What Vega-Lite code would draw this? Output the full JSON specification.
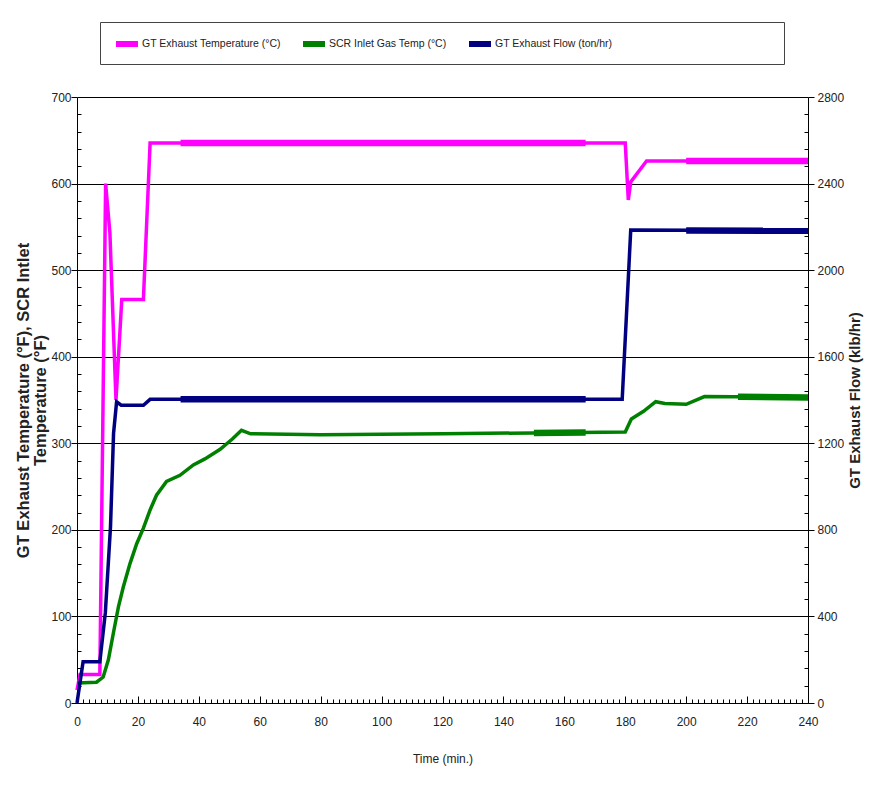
{
  "$schema": "https://vega.github.io/schema/vega-lite/v6.json",
  "width": 731,
  "height": 606,
  "autosize": {"type": "none"},
  "padding": {"left": 77, "top": 97, "right": 63, "bottom": 85},
  "background": "white",
  "config": {
    "view": {"stroke": null},
    "font": "Liberation Sans",
    "axis": {
      "domainColor": "black",
      "domainWidth": 1,
      "tickColor": "black",
      "labelColor": "#222",
      "titleColor": "#222",
      "labelFont": "Liberation Sans",
      "labelFontSize": 12,
      "gridColor": "black",
      "gridWidth": 1
    }
  },
  "datasets": {
    "temp": [
      {"series": "GT Exhaust Temperature (°C)", "t": 0, "v": 15},
      {"series": "GT Exhaust Temperature (°C)", "t": 1, "v": 33},
      {"series": "GT Exhaust Temperature (°C)", "t": 7.5, "v": 33},
      {"series": "GT Exhaust Temperature (°C)", "t": 9.4, "v": 600},
      {"series": "GT Exhaust Temperature (°C)", "t": 10.8, "v": 543},
      {"series": "GT Exhaust Temperature (°C)", "t": 12.8, "v": 350},
      {"series": "GT Exhaust Temperature (°C)", "t": 14.7, "v": 466},
      {"series": "GT Exhaust Temperature (°C)", "t": 21.8, "v": 466},
      {"series": "GT Exhaust Temperature (°C)", "t": 24, "v": 647},
      {"series": "GT Exhaust Temperature (°C)", "t": 180, "v": 647},
      {"series": "GT Exhaust Temperature (°C)", "t": 181, "v": 581},
      {"series": "GT Exhaust Temperature (°C)", "t": 181.8, "v": 602},
      {"series": "GT Exhaust Temperature (°C)", "t": 187, "v": 626},
      {"series": "GT Exhaust Temperature (°C)", "t": 240, "v": 626},
      {"series": "SCR Inlet Gas Temp (°C)", "t": 0, "v": 23},
      {"series": "SCR Inlet Gas Temp (°C)", "t": 6.4, "v": 24},
      {"series": "SCR Inlet Gas Temp (°C)", "t": 8.6, "v": 30},
      {"series": "SCR Inlet Gas Temp (°C)", "t": 10.3, "v": 50},
      {"series": "SCR Inlet Gas Temp (°C)", "t": 11.9, "v": 80},
      {"series": "SCR Inlet Gas Temp (°C)", "t": 13.6, "v": 111},
      {"series": "SCR Inlet Gas Temp (°C)", "t": 15.2, "v": 134},
      {"series": "SCR Inlet Gas Temp (°C)", "t": 17.4, "v": 161},
      {"series": "SCR Inlet Gas Temp (°C)", "t": 19.6, "v": 184},
      {"series": "SCR Inlet Gas Temp (°C)", "t": 21.8, "v": 202},
      {"series": "SCR Inlet Gas Temp (°C)", "t": 24, "v": 223},
      {"series": "SCR Inlet Gas Temp (°C)", "t": 26.1, "v": 240},
      {"series": "SCR Inlet Gas Temp (°C)", "t": 29.4, "v": 256},
      {"series": "SCR Inlet Gas Temp (°C)", "t": 33.8, "v": 263},
      {"series": "SCR Inlet Gas Temp (°C)", "t": 38.2, "v": 275},
      {"series": "SCR Inlet Gas Temp (°C)", "t": 42, "v": 282},
      {"series": "SCR Inlet Gas Temp (°C)", "t": 47, "v": 293},
      {"series": "SCR Inlet Gas Temp (°C)", "t": 51, "v": 305},
      {"series": "SCR Inlet Gas Temp (°C)", "t": 54, "v": 315},
      {"series": "SCR Inlet Gas Temp (°C)", "t": 57, "v": 311},
      {"series": "SCR Inlet Gas Temp (°C)", "t": 80, "v": 310},
      {"series": "SCR Inlet Gas Temp (°C)", "t": 120, "v": 311},
      {"series": "SCR Inlet Gas Temp (°C)", "t": 150, "v": 312},
      {"series": "SCR Inlet Gas Temp (°C)", "t": 180, "v": 313},
      {"series": "SCR Inlet Gas Temp (°C)", "t": 182, "v": 328},
      {"series": "SCR Inlet Gas Temp (°C)", "t": 186, "v": 337},
      {"series": "SCR Inlet Gas Temp (°C)", "t": 190, "v": 348},
      {"series": "SCR Inlet Gas Temp (°C)", "t": 193, "v": 346},
      {"series": "SCR Inlet Gas Temp (°C)", "t": 200, "v": 345},
      {"series": "SCR Inlet Gas Temp (°C)", "t": 206, "v": 354},
      {"series": "SCR Inlet Gas Temp (°C)", "t": 240, "v": 353}
    ],
    "tempThick": [
      {"series": "GT Exhaust Temperature (°C)", "seg": "a", "t": 34, "v": 647},
      {"series": "GT Exhaust Temperature (°C)", "seg": "a", "t": 167, "v": 647},
      {"series": "GT Exhaust Temperature (°C)", "seg": "b", "t": 200, "v": 626},
      {"series": "GT Exhaust Temperature (°C)", "seg": "b", "t": 240, "v": 626},
      {"series": "SCR Inlet Gas Temp (°C)", "seg": "c", "t": 150, "v": 312},
      {"series": "SCR Inlet Gas Temp (°C)", "seg": "c", "t": 167, "v": 312.4},
      {"series": "SCR Inlet Gas Temp (°C)", "seg": "d", "t": 217, "v": 353.7},
      {"series": "SCR Inlet Gas Temp (°C)", "seg": "d", "t": 240, "v": 353}
    ],
    "flow": [
      {"series": "GT Exhaust Flow (ton/hr)", "t": 0, "v": 0},
      {"series": "GT Exhaust Flow (ton/hr)", "t": 2, "v": 191},
      {"series": "GT Exhaust Flow (ton/hr)", "t": 7.5, "v": 191},
      {"series": "GT Exhaust Flow (ton/hr)", "t": 9.3, "v": 416},
      {"series": "GT Exhaust Flow (ton/hr)", "t": 11, "v": 815},
      {"series": "GT Exhaust Flow (ton/hr)", "t": 12, "v": 1246},
      {"series": "GT Exhaust Flow (ton/hr)", "t": 13, "v": 1392},
      {"series": "GT Exhaust Flow (ton/hr)", "t": 14.5, "v": 1376},
      {"series": "GT Exhaust Flow (ton/hr)", "t": 21.8, "v": 1376},
      {"series": "GT Exhaust Flow (ton/hr)", "t": 24, "v": 1403},
      {"series": "GT Exhaust Flow (ton/hr)", "t": 179, "v": 1403},
      {"series": "GT Exhaust Flow (ton/hr)", "t": 181.8, "v": 2185},
      {"series": "GT Exhaust Flow (ton/hr)", "t": 240, "v": 2182}
    ],
    "flowThick": [
      {"series": "GT Exhaust Flow (ton/hr)", "seg": "e", "t": 34, "v": 1403},
      {"series": "GT Exhaust Flow (ton/hr)", "seg": "e", "t": 167, "v": 1403},
      {"series": "GT Exhaust Flow (ton/hr)", "seg": "f", "t": 200, "v": 2183},
      {"series": "GT Exhaust Flow (ton/hr)", "seg": "f", "t": 240, "v": 2182}
    ]
  },
  "layer": [
    {
      "encoding": {
        "x": {
          "field": "t", "type": "quantitative",
          "scale": {"domain": [0, 240], "nice": false},
          "axis": {
            "title": "Time (min.)",
            "titleFont": "Liberation Sans",
            "titleFontSize": 12,
            "titleFontWeight": "normal",
            "titlePadding": 23,
            "values": [0,2,4,6,8,10,12,14,16,18,20,22,24,26,28,30,32,34,36,38,40,42,44,46,48,50,52,54,56,58,60,62,64,66,68,70,72,74,76,78,80,82,84,86,88,90,92,94,96,98,100,102,104,106,108,110,112,114,116,118,120,122,124,126,128,130,132,134,136,138,140,142,144,146,148,150,152,154,156,158,160,162,164,166,168,170,172,174,176,178,180,182,184,186,188,190,192,194,196,198,200,202,204,206,208,210,212,214,216,218,220,222,224,226,228,230,232,234,236,238,240],
            "labelExpr": "datum.value % 20 === 0 ? datum.label : ''",
            "tickSize": {"condition": {"test": "datum.value % 20 === 0", "value": -7}, "value": -4},
            "labelPadding": 20,
            "labelFlush": false,
            "labelOverlap": false,
            "grid": false
          }
        },
        "y": {
          "field": "v", "type": "quantitative",
          "scale": {"domain": [0, 700], "nice": false},
          "axis": {
            "orient": "left",
            "title": ["GT Exhaust Temperature (°F), SCR Intlet", "Temperature (°F)"],
            "titleFont": "Liberation Sans",
            "titleFontSize": 16.5,
            "titleFontWeight": "bold",
            "titlePadding": 2,
            "titleLineHeight": 17,
            "values": [0,20,40,60,80,100,120,140,160,180,200,220,240,260,280,300,320,340,360,380,400,420,440,460,480,500,520,540,560,580,600,620,640,660,680,700],
            "labelExpr": "datum.value % 100 === 0 ? datum.label : ''",
            "tickSize": {"condition": {"test": "datum.value % 100 === 0", "value": 6}, "value": -4},
            "labelPadding": 0,
            "labelOverlap": false,
            "labelFlush": false,
            "grid": true,
            "gridOpacity": {"condition": {"test": "datum.value % 100 === 0", "value": 1}, "value": 0}
          }
        },
        "color": {
          "field": "series", "type": "nominal",
          "scale": {
            "domain": ["GT Exhaust Temperature (°C)", "SCR Inlet Gas Temp (°C)", "GT Exhaust Flow (ton/hr)"],
            "range": ["#FF00FF", "#008000", "#000080"]
          },
          "legend": {
            "orient": "none",
            "legendX": 23,
            "legendY": -75,
            "direction": "horizontal",
            "title": "\u2800\u2800\u2800\u2800\u2800\u2800\u2800\u2800\u2800\u2800\u2800\u2800\u2800\u2800\u2800\u2800\u2800\u2800",
            "titleOrient": "right",
            "titleFont": "DejaVu Sans",
            "titleFontSize": 12,
            "titleFontWeight": "normal",
            "titleLimit": 400,
            "symbolType": "stroke",
            "symbolSize": 484,
            "symbolStrokeWidth": 6,
            "symbolOffset": 5,
            "labelFont": "Liberation Sans",
            "labelFontSize": 10.5,
            "labelColor": "#222",
            "labelOffset": 1,
            "columnPadding": 10,
            "padding": 8,
            "strokeColor": "#444",
            "fillColor": "white"
          }
        }
      },
      "layer": [
        {"data": {"name": "temp"}, "mark": {"type": "line", "strokeWidth": 3.5}},
        {"data": {"name": "tempThick"}, "mark": {"type": "line", "strokeWidth": 6.5}, "encoding": {"detail": {"field": "seg"}}}
      ]
    },
    {
      "encoding": {
        "x": {
          "field": "t", "type": "quantitative",
          "scale": {"domain": [0, 240], "nice": false},
          "axis": {
            "title": "Time (min.)",
            "titleFont": "Liberation Sans",
            "titleFontSize": 12,
            "titleFontWeight": "normal",
            "titlePadding": 23,
            "values": [0,2,4,6,8,10,12,14,16,18,20,22,24,26,28,30,32,34,36,38,40,42,44,46,48,50,52,54,56,58,60,62,64,66,68,70,72,74,76,78,80,82,84,86,88,90,92,94,96,98,100,102,104,106,108,110,112,114,116,118,120,122,124,126,128,130,132,134,136,138,140,142,144,146,148,150,152,154,156,158,160,162,164,166,168,170,172,174,176,178,180,182,184,186,188,190,192,194,196,198,200,202,204,206,208,210,212,214,216,218,220,222,224,226,228,230,232,234,236,238,240],
            "labelExpr": "datum.value % 20 === 0 ? datum.label : ''",
            "tickSize": {"condition": {"test": "datum.value % 20 === 0", "value": -7}, "value": -4},
            "labelPadding": 20,
            "labelFlush": false,
            "labelOverlap": false,
            "grid": false
          }
        },
        "y": {
          "field": "v", "type": "quantitative",
          "scale": {"domain": [0, 2800], "nice": false},
          "axis": {
            "orient": "right",
            "title": "GT Exhaust Flow (klb/hr)",
            "titleFont": "Liberation Sans",
            "titleFontSize": 15,
            "titleFontWeight": "bold",
            "titleAngle": 270,
            "titleBaseline": "top",
            "titlePadding": 4,
            "values": [0,80,160,240,320,400,480,560,640,720,800,880,960,1040,1120,1200,1280,1360,1440,1520,1600,1680,1760,1840,1920,2000,2080,2160,2240,2320,2400,2480,2560,2640,2720,2800],
            "labelExpr": "datum.value % 400 === 0 ? datum.label : ''",
            "tickSize": {"condition": {"test": "datum.value % 400 === 0", "value": 6}, "value": -4},
            "labelPadding": 3,
            "labelOverlap": false,
            "labelFlush": false,
            "format": "d",
            "grid": false
          }
        },
        "color": {
          "field": "series", "type": "nominal",
          "scale": {
            "domain": ["GT Exhaust Temperature (°C)", "SCR Inlet Gas Temp (°C)", "GT Exhaust Flow (ton/hr)"],
            "range": ["#FF00FF", "#008000", "#000080"]
          }
        }
      },
      "layer": [
        {"data": {"name": "flow"}, "mark": {"type": "line", "strokeWidth": 3.5}},
        {"data": {"name": "flowThick"}, "mark": {"type": "line", "strokeWidth": 6.5}, "encoding": {"detail": {"field": "seg"}}}
      ]
    }
  ],
  "resolve": {"scale": {"y": "independent"}}
}
